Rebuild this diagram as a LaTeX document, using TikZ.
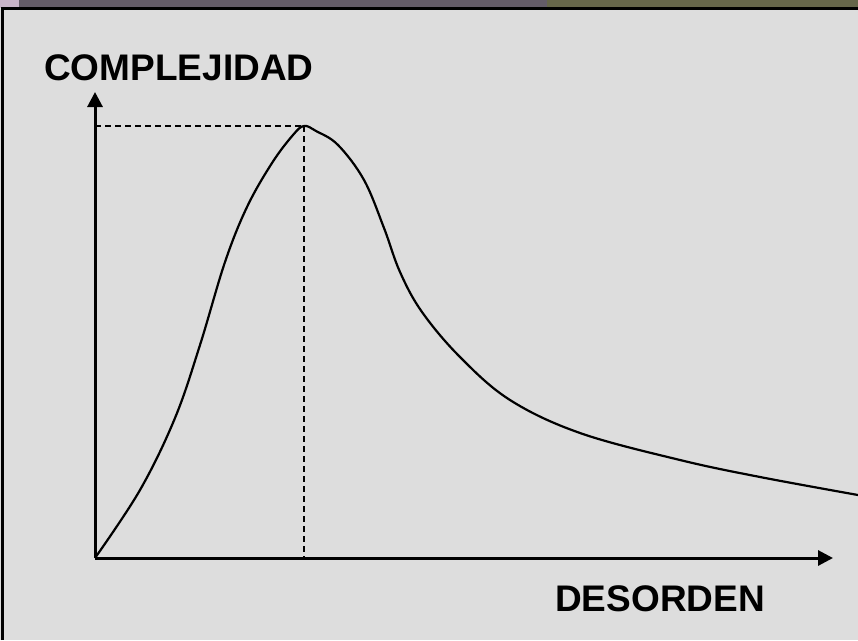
\documentclass[tikz,border=0pt]{standalone}
\usepackage{fontspec}
\setmainfont{Liberation Sans}
\usetikzlibrary{arrows.meta,positioning}
\definecolor{fondo}{RGB}{221,221,221}
\definecolor{lila}{RGB}{200,180,200}
\definecolor{malva}{RGB}{100,92,104}
\definecolor{oliva}{RGB}{102,102,74}
\tikzstyle{eje} = [line width=3pt,-{Triangle[length=15pt,width=15pt]}]
\tikzstyle{guia} = [line width=1.8pt,dash pattern=on 6pt off 4pt]
\tikzstyle{curva} = [line width=2.2pt,line join=round]
\tikzstyle{marco} = [line width=3pt]
\tikzstyle{rotulo} = [inner sep=0,font=\fontsize{37}{40}\selectfont\bfseries]

\begin{document}
\begin{tikzpicture}[x=1pt,y=-1pt]
      \useasboundingbox (0,0) rectangle (858,640);
      \fill[fondo] (0,0) rectangle (858,640);
      % franja superior
      \fill[lila] (0,0) rectangle (19,8);
      \fill[malva] (19,0) rectangle (547,8);
      \fill[oliva] (547,0) rectangle (858,8);
      \draw[marco] (2.5,640) -- (2.5,8.5) -- (858,8.5);
      % ejes
      \coordinate (o) at (95,558);
      \coordinate (ytip) at (95,92);
      \coordinate (xtip) at (833,558);
      \coordinate (cima) at (304,126);
      \draw[eje] (o) -- (ytip);
      \draw[eje] (o) -- (xtip);
      \draw[guia] (o |- cima) -- (cima);
      \draw[guia] (cima) -- (cima |- o);
      % curva
      \draw[curva] plot[smooth,tension=0.6] coordinates {(o) (140,490)
        (175,418) (200,345) (225,262) (247,207) (272,163) (293,135) (cima)
        (316,131) (338,145) (364,180) (384,228) (400,272) (422,312) (460,357)
        (510,400) (580,433) (680,460) (760,477) (858,495)};
      \node[rotulo,anchor=base west] (compl) at (44,80) {COMPLEJIDAD};
      \node[rotulo,anchor=base west] (desor) at (555,611) {DESORDEN};
\end{tikzpicture}
\end{document}
